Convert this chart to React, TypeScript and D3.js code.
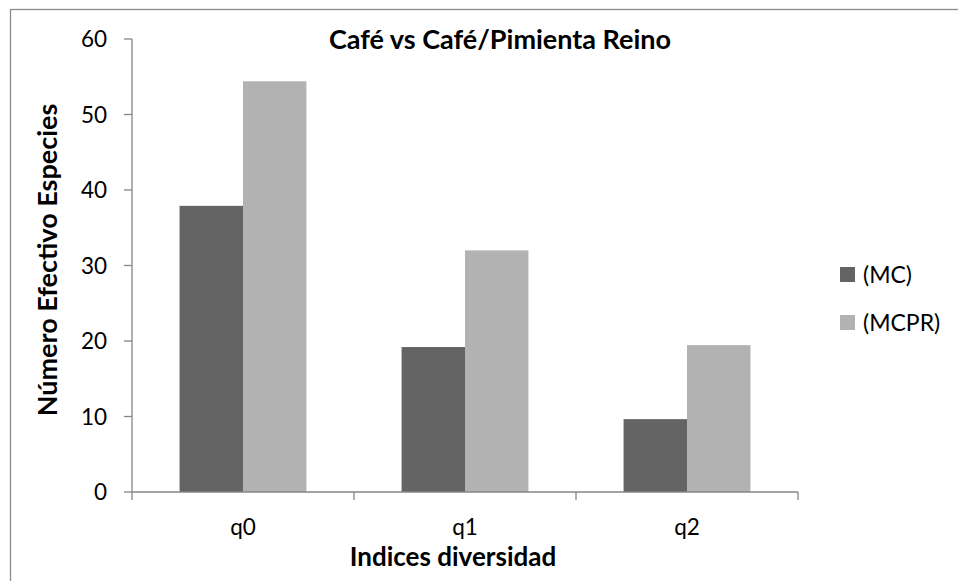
import React from "react";
import * as d3 from "d3";

const categories = ["q0", "q1", "q2"];
const seriesNames = ["(MC)", "(MCPR)"];
const mcValues = [37.9, 19.2, 9.65];
const mcprValues = [54.4, 32.0, 19.45];
const yTicks = [0, 10, 20, 30, 40, 50, 60];
const colors = ["#646464", "#b2b2b2"];

const W = 958;
const H = 581;
const FONT = "Lato, 'Open Sans', sans-serif";

export default function App() {
  const plot = { left: 132, right: 798, top: 39, bottom: 492 };
  const x0 = d3.scaleBand<string>().domain(categories).range([plot.left, plot.right]).padding(0);
  const bw = x0.bandwidth();
  const barW = bw / 3.5;
  const x1 = d3
    .scaleBand<string>()
    .domain(seriesNames)
    .range([barW * 0.75, bw - barW * 0.75])
    .padding(0);
  const y = d3.scaleLinear().domain([0, 60]).range([plot.bottom, plot.top]);
  const values = [mcValues, mcprValues];
  const axisColor = "#868686";
  const xTickPos = [...categories.map((c) => x0(c)!), plot.right];

  return (
    <svg
      width={W}
      height={H}
      style={{ position: "absolute", left: 0, top: 0, background: "#fff" }}
      fontFamily={FONT}
    >
      <rect x={0} y={0} width={W} height={H} fill="#fff" />
      {/* chart frame (extends past image right/bottom) */}
      <rect x={10.5} y={9.5} width={W + 40} height={H + 40} fill="none" stroke="#8a8a8a" strokeWidth={1.3} />

      {/* bars */}
      {seriesNames.map((s, si) =>
        categories.map((c, ci) => (
          <rect
            key={s + c}
            x={x0(c)! + x1(s)!}
            y={y(values[si][ci])}
            width={x1.bandwidth()}
            height={y(0) - y(values[si][ci])}
            fill={colors[si]}
          />
        ))
      )}

      {/* y axis */}
      <line x1={plot.left} x2={plot.left} y1={plot.top} y2={plot.bottom} stroke={axisColor} strokeWidth={1.3} />
      {yTicks.map((t) => (
        <g key={t}>
          <line x1={plot.left - 8} x2={plot.left} y1={y(t)} y2={y(t)} stroke={axisColor} strokeWidth={1.3} />
          <text x={107} y={y(t)} dy="0.36em" textAnchor="end" fontSize={22.5} fill="#000">
            {t}
          </text>
        </g>
      ))}

      {/* x axis */}
      <line x1={plot.left} x2={plot.right} y1={plot.bottom} y2={plot.bottom} stroke={axisColor} strokeWidth={1.3} />
      {xTickPos.map((p, i) => (
        <line key={i} x1={p} x2={p} y1={plot.bottom} y2={plot.bottom + 8} stroke={axisColor} strokeWidth={1.3} />
      ))}
      {categories.map((c) => (
        <text key={c} x={x0(c)! + bw / 2} y={535} textAnchor="middle" fontSize={22.5} fill="#000">
          {c}
        </text>
      ))}

      {/* axis titles */}
      <text x={453} y={566} textAnchor="middle" fontSize={26} fontWeight="bold" fill="#000">
        Indices diversidad
      </text>
      <text
        transform={`translate(57, 260) rotate(-90)`}
        textAnchor="middle"
        fontSize={27}
        fontWeight="bold"
        fill="#000"
      >
        Número Efectivo Especies
      </text>

      {/* title */}
      <text x={500} y={49} textAnchor="middle" fontSize={27} fontWeight="bold" fill="#000">
        Café vs Café/Pimienta Reino
      </text>

      {/* legend */}
      {seriesNames.map((s, i) => (
        <g key={s} transform={`translate(840, ${267 + i * 48})`}>
          <rect x={0} y={0} width={15} height={15} fill={colors[i]} />
          <text x={23} y={7.5} dy="0.36em" fontSize={23} fill="#000">
            {s}
          </text>
        </g>
      ))}
    </svg>
  );
}
